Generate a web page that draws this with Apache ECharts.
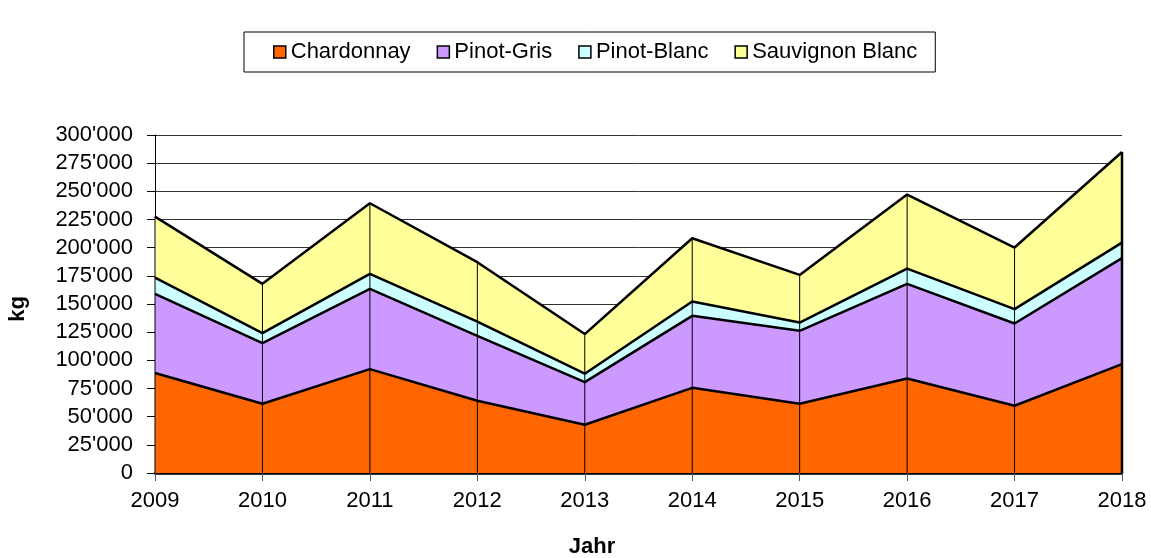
<!DOCTYPE html>
<html>
<head>
<meta charset="utf-8">
<script src="https://cdn.jsdelivr.net/npm/echarts@6/dist/echarts.min.js"></script>
<style>
html,body{margin:0;padding:0;background:#fff;}
#chart{width:1151px;height:558px;}
</style>
</head>
<body>
<div id="chart"></div>
<script>
const years = ['2009','2010','2011','2012','2013','2014','2015','2016','2017','2018'];
const chardonnay = [88700, 61500, 92200, 64100, 42800, 75600, 61500, 83900, 59700, 96700];
const pinotGris = [70300, 53800, 71200, 57600, 37900, 63900, 64700, 84000, 73000, 94000];
const pinotBlanc = [14500, 8800, 13300, 12700, 7400, 12700, 7300, 13500, 12700, 13800];
const sauvignonBlanc = [54000, 43800, 62700, 52700, 35200, 56200, 42300, 65700, 54700, 80400];
const seriesNames = ['Chardonnay', 'Pinot-Gris', 'Pinot-Blanc', 'Sauvignon Blanc'];
const seriesColors = ['#FF6600', '#CC99FF', '#CCFFFF', '#FFFF99'];
const seriesValues = [chardonnay, pinotGris, pinotBlanc, sauvignonBlanc];
const yMax = 300000, yStep = 25000;

const totals = years.map((y, i) => seriesValues.reduce((s, arr) => s + arr[i], 0));
const FONT = 'Liberation Sans, Arial, sans-serif';

const chart = echarts.init(document.getElementById('chart'));

const areaSeries = seriesNames.map((name, k) => ({
  name: name,
  type: 'line',
  stack: 'total',
  data: seriesValues[k],
  color: seriesColors[k],
  symbol: 'none',
  z: 6 - k,
  lineStyle: {color: '#000', width: 2.5},
  areaStyle: {color: seriesColors[k], opacity: 1},
  emphasis: {disabled: true}
}));

const dropSeries = {
  type: 'custom',
  z: 10,
  silent: true,
  data: totals.map((t, i) => [i, t]),
  renderItem: function (params, api) {
    const i = api.value(0);
    const p0 = api.coord([i, 0]);
    const p1 = api.coord([i, api.value(1)]);
    const last = i === years.length - 1;
    return {
      type: 'line',
      shape: {x1: p0[0], y1: p0[1], x2: p1[0], y2: p1[1]},
      style: {stroke: '#000', lineWidth: last ? 2.5 : 1}
    };
  }
};

chart.setOption({
  animation: false,
  textStyle: {fontFamily: FONT},
  legend: {
    data: seriesNames,
    left: 244,
    top: 32,
    icon: 'rect',
    itemWidth: 12,
    itemHeight: 12,
    itemGap: 26,
    padding: [9, 18, 9, 29],
    borderColor: '#000',
    borderWidth: 1,
    itemStyle: {borderColor: '#000', borderWidth: 1.5},
    textStyle: {fontFamily: FONT, fontSize: 22, color: '#000', lineHeight: 22}
  },
  grid: {left: 155, right: 29, top: 135, bottom: 85, containLabel: false},
  xAxis: {
    type: 'category',
    boundaryGap: false,
    data: years,
    axisLine: {lineStyle: {color: '#000', width: 2.5}},
    axisTick: {show: true, length: 8, lineStyle: {color: '#555', width: 1}},
    axisLabel: {fontFamily: FONT, fontSize: 22, color: '#000', margin: 17},
    splitLine: {show: false}
  },
  yAxis: {
    type: 'value',
    min: 0,
    max: yMax,
    interval: yStep,
    axisLine: {show: true, lineStyle: {color: '#000', width: 1}},
    axisTick: {show: true, length: 8, lineStyle: {color: '#000', width: 1}},
    axisLabel: {
      fontFamily: FONT, fontSize: 22, color: '#000', margin: 22,
      formatter: v => String(v).replace(/\B(?=(\d{3})+(?!\d))/g, "'")
    },
    splitLine: {show: true, lineStyle: {color: '#333', width: 1}}
  },
  graphic: [
    {type: 'text', left: 'center', x: 0, style: {}, silent: true, invisible: true},
    {
      type: 'text', x: 18, y: 309, rotation: Math.PI / 2, silent: true,
      style: {text: 'kg', font: 'bold 22px ' + FONT, fill: '#000', align: 'center', verticalAlign: 'middle'}
    },
    {
      type: 'text', x: 592, y: 547, silent: true,
      style: {text: 'Jahr', font: 'bold 22px ' + FONT, fill: '#000', align: 'center', verticalAlign: 'middle'}
    }
  ],
  series: areaSeries.concat([dropSeries])
});
</script>
</body>
</html>
